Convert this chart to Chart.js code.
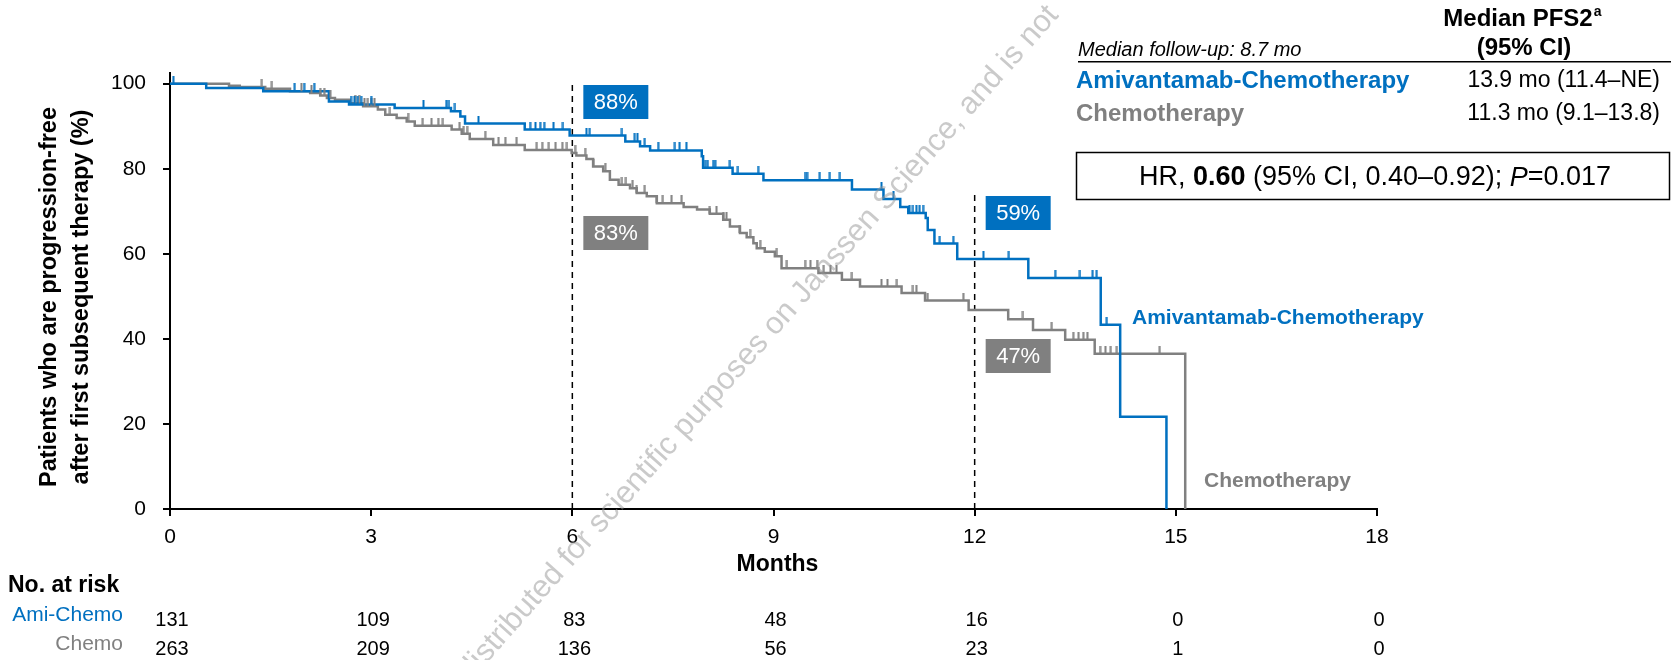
<!DOCTYPE html>
<html>
<head>
<meta charset="utf-8">
<script src="https://cdn.jsdelivr.net/npm/chart.js@4.4.1/dist/chart.umd.min.js"></script>
<style>
html,body{margin:0;padding:0;background:#fff;}
#wrap{width:1671px;height:660px;position:relative;}
</style>
</head>
<body>
<div id="wrap"><canvas id="c" width="1671" height="660"></canvas></div>
<script>
// ---------------- DATA ----------------
const xTickValues = [0, 3, 6, 9, 12, 15, 18];
const yTickValues = [0, 20, 40, 60, 80, 100];

// Kaplan–Meier step points: time (months) and % progression-free after the step
const amiTimes = [0, 0.54, 1.39, 2.37, 2.67, 3.35, 4.19, 4.33, 4.40, 5.29, 5.96, 6.79, 7.01, 7.16, 7.93, 7.95, 8.39, 8.85, 10.17, 10.64, 10.89, 11.01, 11.27, 11.30, 11.40, 11.74, 12.80, 13.88, 14.17, 14.86];
const amiSurv  = [100, 99.0, 98.2, 95.8, 95.1, 94.3, 93.5, 92.3, 90.6, 89.2, 87.8, 86.4, 85.3, 84.3, 82.9, 80.2, 78.8, 77.3, 75.1, 72.9, 71.0, 69.6, 68.4, 65.6, 62.4, 58.8, 54.3, 43.3, 21.7, 0];

const chemoTimes = [0, 0.88, 1.04, 1.42, 1.79, 2.09, 2.24, 2.34, 2.46, 2.68, 2.88, 3.10, 3.21, 3.38, 3.53, 3.65, 4.20, 4.35, 4.47, 4.82, 5.29, 5.99, 6.06, 6.21, 6.31, 6.46, 6.56, 6.69, 6.86, 6.96, 7.11, 7.26, 7.66, 7.86, 8.05, 8.25, 8.35, 8.50, 8.60, 8.70, 8.75, 8.87, 9.02, 9.12, 9.67, 10.02, 10.29, 10.91, 11.26, 11.91, 12.50, 12.87, 13.35, 13.79, 15.14];
const chemoSurv  = [100, 99.5, 99.2, 98.8, 98.2, 97.8, 97.2, 96.6, 96.2, 95.4, 94.7, 93.9, 92.7, 91.9, 91.1, 90.1, 89.2, 88.2, 87.0, 85.6, 84.4, 83.7, 83.1, 82.3, 80.5, 79.4, 77.4, 76.2, 75.4, 74.3, 73.5, 71.9, 71.0, 70.4, 69.4, 68.0, 66.4, 64.9, 63.9, 62.5, 61.3, 60.5, 59.4, 56.6, 55.5, 53.9, 52.3, 50.8, 49.0, 46.8, 44.6, 42.1, 39.8, 36.5, 0];

// Censoring times (months)
const amiCensor = [0.05, 1.86, 2.0, 2.15, 2.7, 2.75, 2.8, 2.85, 3.0, 3.78, 4.12, 4.16, 4.25, 4.60, 5.37, 5.45, 5.52, 5.58, 5.72, 5.86, 6.21, 6.26, 6.74, 6.93, 6.97, 7.08, 7.28, 7.53, 7.60, 7.70, 7.98, 8.02, 8.10, 8.13, 8.35, 8.47, 8.77, 9.47, 9.50, 9.69, 9.84, 9.99, 10.61, 10.79, 11.03, 11.08, 11.13, 11.18, 11.23, 11.48, 11.68, 12.13, 12.51, 13.20, 13.57, 13.76, 13.82, 13.97];
const chemoCensor = [1.37, 1.52, 1.96, 2.11, 2.24, 2.30, 2.39, 2.76, 2.82, 2.90, 2.95, 3.00, 3.05, 3.28, 3.55, 3.77, 3.90, 4.00, 4.07, 4.32, 4.38, 4.43, 4.70, 4.90, 5.00, 5.17, 5.47, 5.55, 5.65, 5.75, 5.85, 5.92, 6.04, 6.19, 6.31, 6.49, 6.74, 6.80, 6.90, 6.96, 7.08, 7.26, 7.35, 7.48, 7.63, 8.05, 8.15, 8.25, 8.30, 8.50, 8.65, 8.80, 9.05, 9.20, 9.47, 9.55, 9.65, 9.75, 9.85, 9.94, 10.17, 10.61, 10.70, 10.84, 11.08, 11.13, 11.30, 11.83, 12.72, 13.15, 13.47, 13.55, 13.62, 13.68, 13.87, 13.95, 14.03, 14.12, 14.76];

// Landmark estimates
const landmarkMonths = [6, 12];
const amiLandmark = ['88%', '59%'];
const chemoLandmark = ['83%', '47%'];

// Numbers at risk
const riskMonths = [0, 3, 6, 9, 12, 15, 18];
const amiRisk = [131, 109, 83, 48, 16, 0, 0];
const chemoRisk = [263, 209, 136, 56, 23, 1, 0];

const amiName = 'Amivantamab-Chemotherapy';
const chemoName = 'Chemotherapy';
const amiMedian = '13.9 mo (11.4–NE)';
const chemoMedian = '11.3 mo (9.1–13.8)';

// ---------------- STYLE ----------------
const BLUE = '#0070C0';
const GREY = '#808080';
const FONT = '"Liberation Sans", Arial, Helvetica, sans-serif';

function survAt(times, surv, t) {
  let s = surv[0];
  for (let i = 0; i < times.length; i++) { if (times[i] <= t) s = surv[i]; }
  return s;
}
function tickImg(color) {
  const c = document.createElement('canvas');
  c.width = 3; c.height = 16;
  const g = c.getContext('2d');
  g.fillStyle = color;
  g.fillRect(0.5, 0, 2, 8);
  return c;
}
const zip = (xs, ys) => xs.map((x, i) => ({x: x, y: ys[i]}));

const overlay = {
  id: 'overlay',
  afterDraw(chart) {
    const ctx = chart.ctx;
    const xs = chart.scales.x, ys = chart.scales.y;
    const px = v => xs.getPixelForValue(v), py = v => ys.getPixelForValue(v);
    ctx.save();

    // watermark
    ctx.save();
    ctx.translate(464, 676);
    ctx.rotate(-48.5 * Math.PI / 180);
    ctx.font = '31px ' + FONT;
    ctx.fillStyle = 'rgba(150,150,150,0.5)';
    ctx.textAlign = 'left';
    ctx.textBaseline = 'middle';
    ctx.fillText('distributed for scientific purposes on Janssen Science, and is not', 0, 0);
    ctx.restore();

    // y axis title
    ctx.save();
    ctx.translate(50, 297);
    ctx.rotate(-Math.PI / 2);
    ctx.font = 'bold 23.5px ' + FONT;
    ctx.fillStyle = '#000';
    ctx.textAlign = 'center';
    ctx.textBaseline = 'middle';
    ctx.fillText('Patients who are progression-free', 0, 0);
    ctx.fillText('after first subsequent therapy (%)', 0, 32);
    ctx.restore();

    // landmark boxes
    ctx.font = '22px ' + FONT;
    ctx.textAlign = 'center';
    ctx.textBaseline = 'middle';
    const boxes = [
      [landmarkMonths[0], amiLandmark[0], BLUE, 85],
      [landmarkMonths[0], chemoLandmark[0], GREY, 216],
      [landmarkMonths[1], amiLandmark[1], BLUE, 196],
      [landmarkMonths[1], chemoLandmark[1], GREY, 339]
    ];
    boxes.forEach(b => {
      const l = px(b[0]) + 11;
      ctx.fillStyle = b[2];
      ctx.fillRect(l, b[3], 65, 34);
      ctx.fillStyle = '#fff';
      ctx.fillText(b[1], l + 32.5, b[3] + 18);
    });

    // curve labels
    ctx.font = 'bold 21px ' + FONT;
    ctx.textAlign = 'left';
    ctx.fillStyle = BLUE;
    ctx.fillText(amiName, 1132, 318);
    ctx.fillStyle = GREY;
    ctx.fillText(chemoName, 1204, 481);

    // top-right table
    ctx.fillStyle = '#000';
    ctx.font = 'bold 24px ' + FONT;
    ctx.textAlign = 'center';
    const mp = 'Median PFS2';
    const mpw = ctx.measureText(mp).width;
    ctx.fillText(mp, 1518, 19);
    ctx.font = 'bold 14px ' + FONT;
    ctx.textAlign = 'left';
    ctx.fillText('a', 1518 + mpw / 2 + 1, 12);
    ctx.font = 'bold 24px ' + FONT;
    ctx.textAlign = 'center';
    ctx.fillText('(95% CI)', 1524, 48);
    ctx.font = 'italic 20px ' + FONT;
    ctx.textAlign = 'left';
    ctx.fillText('Median follow-up: 8.7 mo', 1078, 50);
    ctx.fillStyle = '#000';
    ctx.fillRect(1078, 61, 593, 1.5);
    ctx.font = 'bold 24px ' + FONT;
    ctx.fillStyle = BLUE;
    ctx.fillText(amiName, 1076, 81);
    ctx.fillStyle = GREY;
    ctx.fillText(chemoName, 1076, 114);
    ctx.font = '23px ' + FONT;
    ctx.fillStyle = '#000';
    ctx.textAlign = 'right';
    ctx.fillText(amiMedian, 1660, 81);
    ctx.fillText(chemoMedian, 1660, 114);

    // HR box
    ctx.strokeStyle = '#000';
    ctx.lineWidth = 1.5;
    ctx.strokeRect(1076.5, 152.5, 593, 47);
    const parts = [
      ['HR, ', ''], ['0.60', 'bold '], [' (95% CI, 0.40–0.92); ', ''], ['P', 'italic '], ['=0.017', '']
    ];
    let tot = 0;
    parts.forEach(p => { ctx.font = p[1] + '27px ' + FONT; tot += ctx.measureText(p[0]).width; });
    let x0 = 1375 - tot / 2;
    ctx.textAlign = 'left';
    parts.forEach(p => { ctx.font = p[1] + '27px ' + FONT; ctx.fillText(p[0], x0, 178); x0 += ctx.measureText(p[0]).width; });

    // Months title
    ctx.font = 'bold 23px ' + FONT;
    ctx.textAlign = 'center';
    ctx.fillText('Months', px(9) + 4, 565);

    // at risk table
    ctx.textAlign = 'left';
    ctx.font = 'bold 23px ' + FONT;
    ctx.fillText('No. at risk', 8, 586);
    ctx.font = '21px ' + FONT;
    ctx.textAlign = 'right';
    ctx.fillStyle = BLUE;
    ctx.fillText('Ami-Chemo', 123, 615);
    ctx.fillStyle = GREY;
    ctx.fillText('Chemo', 123, 644);
    ctx.fillStyle = '#000';
    ctx.textAlign = 'center';
    ctx.font = '20px ' + FONT;
    riskMonths.forEach((m, i) => {
      ctx.fillText(String(amiRisk[i]), px(m) + 2, 620);
      ctx.fillText(String(chemoRisk[i]), px(m) + 2, 649);
    });
    ctx.restore();
  }
};

new Chart(document.getElementById('c'), {
  type: 'line',
  data: {
    datasets: [
      {
        label: 'Ami censor', type: 'scatter', order: 0,
        data: amiCensor.map(t => ({x: t, y: survAt(amiTimes, amiSurv, t)})),
        pointStyle: tickImg(BLUE), pointRadius: 8, showLine: false
      },
      {
        label: 'Chemo censor', type: 'scatter', order: 0,
        data: chemoCensor.map(t => ({x: t, y: survAt(chemoTimes, chemoSurv, t)})),
        pointStyle: tickImg(GREY), pointRadius: 8, showLine: false
      },
      {
        label: amiName, order: 1, data: zip(amiTimes, amiSurv),
        stepped: 'before', borderColor: BLUE, borderWidth: 2.5, pointRadius: 0, fill: false
      },
      {
        label: chemoName, order: 2, data: zip(chemoTimes, chemoSurv),
        stepped: 'before', borderColor: GREY, borderWidth: 2.5, pointRadius: 0, fill: false
      },
      {
        label: '6 mo', order: 3, data: [{x: landmarkMonths[0], y: 0}, {x: landmarkMonths[0], y: 100.4}],
        borderColor: '#000', borderWidth: 1.5, borderDash: [6, 5], pointRadius: 0
      },
      {
        label: '12 mo', order: 3, data: [{x: landmarkMonths[1], y: 0}, {x: landmarkMonths[1], y: 74}],
        borderColor: '#000', borderWidth: 1.5, borderDash: [6, 5], pointRadius: 0
      }
    ]
  },
  options: {
    responsive: false,
    animation: false,
    events: [],
    layout: {padding: {left: 0, right: 294, top: 73, bottom: 0}},
    plugins: {legend: {display: false}, tooltip: {enabled: false}},
    scales: {
      x: {
        type: 'linear', min: 0, max: 18,
        afterBuildTicks: s => { s.ticks = xTickValues.map(v => ({value: v})); },
        afterFit: s => { s.height = 151; },
        border: {color: '#000', width: 2},
        grid: {drawOnChartArea: false, drawTicks: true, tickLength: 7, color: '#000', lineWidth: 2},
        ticks: {color: '#000', font: {family: FONT, size: 21}, padding: 9, maxRotation: 0}
      },
      y: {
        type: 'linear', min: 0, max: 102.5,
        afterBuildTicks: s => { s.ticks = yTickValues.map(v => ({value: v})); },
        afterFit: s => { s.width = 170; },
        border: {color: '#000', width: 2},
        grid: {drawOnChartArea: false, drawTicks: true, tickLength: 7, color: '#000', lineWidth: 2},
        ticks: {color: '#000', font: {family: FONT, size: 21}, padding: 17}
      }
    }
  },
  plugins: [overlay]
});
</script>
</body>
</html>
